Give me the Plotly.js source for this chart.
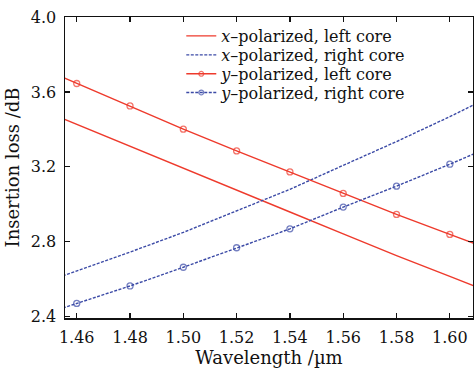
<!DOCTYPE html>
<html>
<head>
<meta charset="utf-8">
<script src="https://cdn.plot.ly/plotly-3.0.1.min.js"></script>
<style>html,body{margin:0;padding:0;background:#fff;}#chart{width:474px;height:370px;}</style>
</head>
<body>
<div id="chart"></div>
<script>
// Wavelength (µm); end points extend the curves to the frame
const wavelength = [1.45, 1.46, 1.48, 1.50, 1.52, 1.54, 1.56, 1.58, 1.60, 1.61];
const xPolLeft  = [3.486, 3.427, 3.310, 3.193, 3.076, 2.959, 2.842, 2.726, 2.615, 2.560];
const xPolRight = [2.594, 2.644, 2.745, 2.850, 2.963, 3.080, 3.208, 3.335, 3.468, 3.538];
const yPolLeft  = [3.707, 3.645, 3.525, 3.401, 3.285, 3.173, 3.058, 2.946, 2.839, 2.786];
const yPolRight = [2.424, 2.471, 2.564, 2.664, 2.768, 2.869, 2.985, 3.097, 3.214, 3.275];
const seriesNames = [
  '<i>x</i>\u2013polarized, left core',
  '<i>x</i>\u2013polarized, right core',
  '<i>y</i>\u2013polarized, left core',
  '<i>y</i>\u2013polarized, right core'
];
const xTicks = [1.46, 1.48, 1.50, 1.52, 1.54, 1.56, 1.58, 1.60];
const yTicks = [2.4, 2.8, 3.2, 3.6, 4.0];

const RED = '#ee3a2c', BLUE = '#3b4aa6';
const FONT = 'DejaVu Serif, serif';
const markerSizes = wavelength.map((w, i) => (i === 0 || i === wavelength.length - 1) ? 0 : 6);

const traces = [
  {x: wavelength, y: xPolLeft, name: seriesNames[0], mode: 'lines', legend: 'legend',
   line: {color: RED, width: 1.4}},
  {x: wavelength, y: xPolRight, name: seriesNames[1], mode: 'lines', legend: 'legend2',
   line: {color: BLUE, width: 1.4, dash: '3px,1.5px'}},
  {x: wavelength, y: yPolLeft, name: seriesNames[2], mode: 'lines+markers', legend: 'legend3',
   line: {color: RED, width: 1.4},
   marker: {symbol: 'circle-open', size: markerSizes, color: RED, line: {width: 1.3, color: RED}}},
  {x: wavelength, y: yPolRight, name: seriesNames[3], mode: 'lines+markers', legend: 'legend4',
   line: {color: BLUE, width: 1.4, dash: '3px,1.5px'},
   marker: {symbol: 'circle-open', size: markerSizes, color: BLUE, line: {width: 1.3, color: BLUE}}}
];

function leg(y) {
  return {x: 0.285, y: y, xanchor: 'left', yanchor: 'middle', bgcolor: 'rgba(0,0,0,0)',
          borderwidth: 0, font: {family: FONT, size: 16, color: '#111'}, itemwidth: 30};
}

const axisCommon = {
  showline: true, linecolor: '#111', linewidth: 1.5, mirror: 'ticks',
  ticks: 'inside', ticklen: 5, tickwidth: 1.3, tickcolor: '#111',
  showgrid: false, zeroline: false,
  tickfont: {family: FONT, size: 16, color: '#111'}
};

const layout = {
  width: 474, height: 370,
  margin: {l: 65, r: 1, t: 17, b: 52},
  paper_bgcolor: '#fff', plot_bgcolor: '#fff',
  showlegend: true,
  legend: leg(0.937), legend2: leg(0.874), legend3: leg(0.811), legend4: leg(0.749),
  xaxis: Object.assign({}, axisCommon, {
    range: [1.4556, 1.6087], tickvals: xTicks, tickformat: '.2f',
    ticklabelstandoff: 4,
    title: {text: 'Wavelength /\u00b5m', font: {family: FONT, size: 18, color: '#111'}, standoff: 2}
  }),
  yaxis: Object.assign({}, axisCommon, {
    range: [2.393, 4.0], tickvals: yTicks, tickformat: '.1f',
    ticklabelstandoff: 4,
    title: {text: 'Insertion loss /dB', font: {family: FONT, size: 18, color: '#111'}, standoff: 6}
  })
};

Plotly.newPlot('chart', traces, layout, {staticPlot: true, displayModeBar: false});
</script>
</body>
</html>
